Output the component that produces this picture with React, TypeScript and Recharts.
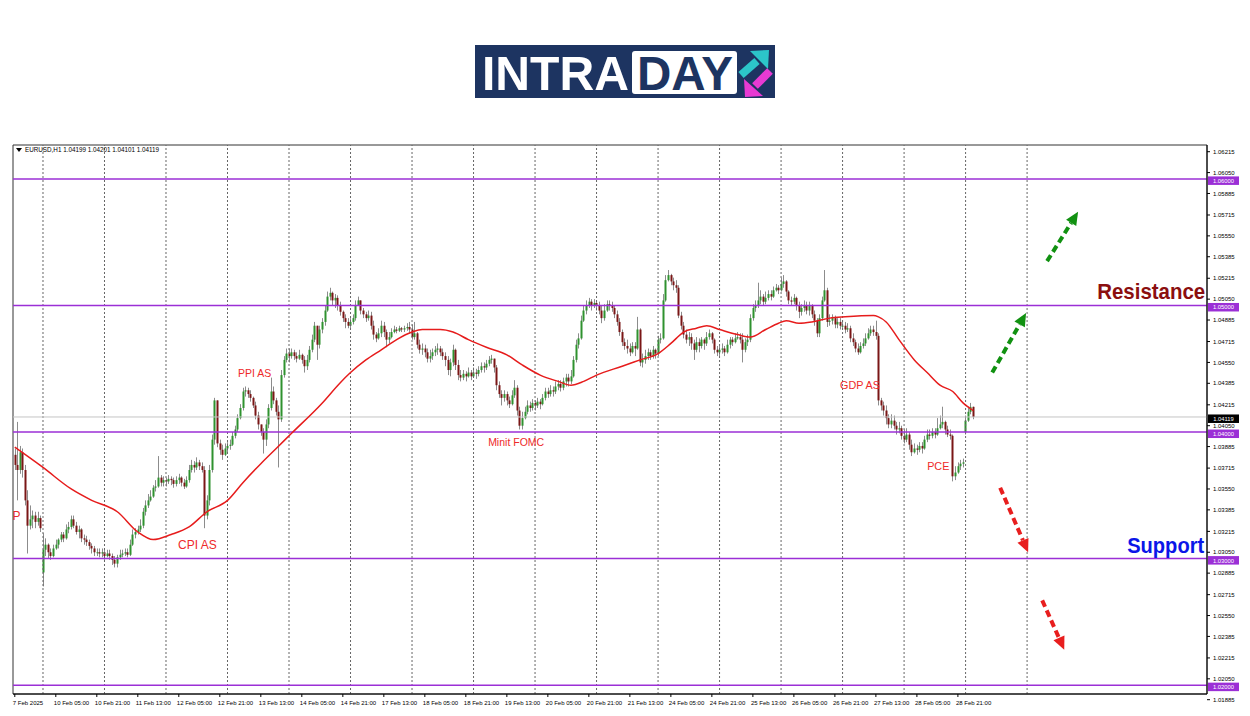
import React from 'react';
import {
  ComposedChart,
  XAxis,
  YAxis,
  Bar,
  Line,
  ReferenceLine,
  ReferenceDot,
  ReferenceArea,
} from 'recharts';

// EURUSD H1, 7 Feb 13:00 -> 3 Mar 03:00. open = previous close except where noted
const firstOpen = 1.0382;
const gapOpens: Record<number, number> = { 11: 1.0289, 371: 1.04 };

const closes = [
  // 7 Feb
  1.0374, 1.0370, 1.0384, 1.0370, 1.0346, 1.0326, 1.0331, 1.0334, 1.0329, 1.0332, 1.0324,
  // 10 Feb
  1.0307, 1.0311, 1.0305, 1.0302, 1.0308, 1.0311, 1.0315, 1.0319, 1.0316, 1.0323, 1.0325, 1.0331,
  1.0326, 1.0321, 1.0323, 1.0316, 1.0315, 1.0313, 1.0310, 1.0308, 1.0305, 1.0305, 1.0304, 1.0305,
  // 11 Feb
  1.0302, 1.0304, 1.0302, 1.0299, 1.0296, 1.0301, 1.0303, 1.0304, 1.0305, 1.0303, 1.0311, 1.0319,
  1.0321, 1.0323, 1.0326, 1.0337, 1.0342, 1.0346, 1.0349, 1.0356, 1.0357, 1.0364, 1.0360, 1.0362,
  // 12 Feb
  1.0361, 1.0363, 1.0362, 1.0359, 1.0362, 1.0364, 1.0360, 1.0357, 1.0362, 1.0370, 1.0374, 1.0372,
  1.0376, 1.0373, 1.0370, 1.0334, 1.0346, 1.0370, 1.0394, 1.0425, 1.0391, 1.0386, 1.0382, 1.0387,
  // 13 Feb
  1.0389, 1.0390, 1.0397, 1.0402, 1.0411, 1.0419, 1.0432, 1.0433, 1.0430, 1.0427, 1.0421, 1.0413,
  1.0406, 1.0400, 1.0394, 1.0406, 1.0419, 1.0432, 1.0425, 1.0416, 1.0410, 1.0445, 1.0457, 1.0462,
  // 14 Feb
  1.0460, 1.0463, 1.0460, 1.0458, 1.0461, 1.0457, 1.0452, 1.0457, 1.0465, 1.0473, 1.0484, 1.0469,
  1.0481, 1.0487, 1.0496, 1.0507, 1.0510, 1.0504, 1.0506, 1.0500, 1.0495, 1.0490, 1.0487, 1.0484,
  // 17 Feb
  1.0487, 1.0490, 1.0500, 1.0504, 1.0496, 1.0493, 1.0490, 1.0492, 1.0484, 1.0477, 1.0474, 1.0478,
  1.0484, 1.0479, 1.0473, 1.0475, 1.0479, 1.0481, 1.0480, 1.0482, 1.0481, 1.0482, 1.0483, 1.0481,
  // 18 Feb
  1.0475, 1.0478, 1.0469, 1.0465, 1.0466, 1.0463, 1.0458, 1.0460, 1.0463, 1.0465, 1.0466, 1.0463,
  1.0460, 1.0457, 1.0449, 1.0455, 1.0465, 1.0453, 1.0445, 1.0443, 1.0446, 1.0444, 1.0447, 1.0444,
  // 19 Feb
  1.0447, 1.0446, 1.0449, 1.0452, 1.0451, 1.0454, 1.0457, 1.0458, 1.0451, 1.0437, 1.0430, 1.0427,
  1.0430, 1.0425, 1.0422, 1.0429, 1.0435, 1.0417, 1.0405, 1.0411, 1.0416, 1.0421, 1.0419, 1.0423,
  // 20 Feb
  1.0421, 1.0424, 1.0422, 1.0427, 1.0432, 1.0430, 1.0433, 1.0432, 1.0436, 1.0438, 1.0435, 1.0440,
  1.0443, 1.0440, 1.0444, 1.0457, 1.0469, 1.0474, 1.0488, 1.0496, 1.0500, 1.0503, 1.0500, 1.0502,
  // 21 Feb
  1.0500, 1.0496, 1.0490, 1.0496, 1.0501, 1.0500, 1.0498, 1.0493, 1.0487, 1.0479, 1.0471, 1.0468,
  1.0466, 1.0463, 1.0468, 1.0466, 1.0481, 1.0455, 1.0457, 1.0460, 1.0463, 1.0460, 1.0465, 1.0462,
  // 24 Feb
  1.0473, 1.0474, 1.0504, 1.0520, 1.0524, 1.0519, 1.0516, 1.0514, 1.0492, 1.0484, 1.0477, 1.0473,
  1.0475, 1.0470, 1.0465, 1.0471, 1.0468, 1.0473, 1.0470, 1.0475, 1.0478, 1.0473, 1.0465, 1.0463,
  // 25 Feb
  1.0465, 1.0466, 1.0463, 1.0469, 1.0473, 1.0471, 1.0474, 1.0475, 1.0473, 1.0465, 1.0471, 1.0473,
  1.0490, 1.0498, 1.0500, 1.0504, 1.0507, 1.0503, 1.0506, 1.0509, 1.0507, 1.0512, 1.0514, 1.0512,
  // 26 Feb
  1.0517, 1.0519, 1.0511, 1.0504, 1.0503, 1.0506, 1.0500, 1.0495, 1.0498, 1.0500, 1.0496, 1.0500,
  1.0493, 1.0488, 1.0478, 1.0490, 1.0504, 1.0512, 1.0487, 1.0488, 1.0490, 1.0485, 1.0487, 1.0484,
  // 27 Feb
  1.0484, 1.0481, 1.0482, 1.0474, 1.0471, 1.0466, 1.0463, 1.0468, 1.0470, 1.0474, 1.0478, 1.0481,
  1.0479, 1.0476, 1.0425, 1.0421, 1.0417, 1.0411, 1.0406, 1.0409, 1.0405, 1.0402, 1.0403, 1.0397,
  // 28 Feb
  1.0394, 1.0398, 1.0390, 1.0384, 1.0387, 1.0386, 1.0389, 1.0387, 1.0394, 1.0398, 1.0397, 1.0400,
  1.0398, 1.0403, 1.0406, 1.0408, 1.0402, 1.0398, 1.0397, 1.0365, 1.0368, 1.0373, 1.0375, 1.0376,
  // 3 Mar
  1.0409, 1.0416, 1.04199, 1.04119,
];

const highs = [
  1.0387, 1.0408, 1.0389, 1.0387, 1.0374, 1.0354, 1.0342, 1.0338, 1.0337, 1.0337, 1.0334,
  1.0320, 1.0316, 1.0312, 1.0308, 1.0311, 1.0315, 1.0316, 1.0321, 1.0321, 1.0327, 1.0329, 1.0334,
  1.0334, 1.0329, 1.0326, 1.0324, 1.0319, 1.0318, 1.0315, 1.0312, 1.0310, 1.0308, 1.0308, 1.0308,
  1.0307, 1.0307, 1.0307, 1.0304, 1.0302, 1.0303, 1.0307, 1.0307, 1.0308, 1.0308, 1.0315, 1.0323,
  1.0324, 1.0326, 1.0331, 1.0340, 1.0346, 1.0351, 1.0354, 1.0358, 1.0362, 1.0381, 1.0366, 1.0365,
  1.0364, 1.0366, 1.0365, 1.0364, 1.0365, 1.0367, 1.0365, 1.0363, 1.0365, 1.0374, 1.0378, 1.0377,
  1.0380, 1.0378, 1.0376, 1.0373, 1.0350, 1.0374, 1.0398, 1.0427, 1.0425, 1.0394, 1.0390, 1.0391,
  1.0392, 1.0394, 1.0400, 1.0405, 1.0414, 1.0422, 1.0435, 1.0436, 1.0435, 1.0433, 1.0428, 1.0424,
  1.0416, 1.0406, 1.0403, 1.0410, 1.0422, 1.0443, 1.0436, 1.0427, 1.0421, 1.0449, 1.0460, 1.0466,
  1.0466, 1.0466, 1.0465, 1.0463, 1.0465, 1.0462, 1.0460, 1.0461, 1.0468, 1.0477, 1.0487, 1.0484,
  1.0484, 1.0490, 1.0500, 1.0511, 1.0514, 1.0511, 1.0509, 1.0508, 1.0503, 1.0496, 1.0493, 1.0490,
  1.0490, 1.0493, 1.0504, 1.0507, 1.0504, 1.0498, 1.0495, 1.0496, 1.0495, 1.0488, 1.0479, 1.0482,
  1.0488, 1.0487, 1.0481, 1.0479, 1.0482, 1.0484, 1.0483, 1.0484, 1.0483, 1.0484, 1.0486, 1.0487,
  1.0485, 1.0487, 1.0479, 1.0473, 1.0470, 1.0469, 1.0466, 1.0465, 1.0466, 1.0468, 1.0470, 1.0468,
  1.0466, 1.0463, 1.0460, 1.0458, 1.0469, 1.0466, 1.0457, 1.0449, 1.0449, 1.0448, 1.0451, 1.0449,
  1.0451, 1.0450, 1.0452, 1.0455, 1.0455, 1.0457, 1.0460, 1.0461, 1.0458, 1.0453, 1.0440, 1.0433,
  1.0433, 1.0432, 1.0428, 1.0433, 1.0441, 1.0437, 1.0420, 1.0416, 1.0420, 1.0425, 1.0424, 1.0426,
  1.0425, 1.0427, 1.0426, 1.0430, 1.0435, 1.0435, 1.0437, 1.0436, 1.0440, 1.0441, 1.0441, 1.0443,
  1.0446, 1.0446, 1.0449, 1.0460, 1.0473, 1.0478, 1.0492, 1.0500, 1.0504, 1.0506, 1.0505, 1.0505,
  1.0504, 1.0503, 1.0500, 1.0501, 1.0504, 1.0504, 1.0503, 1.0500, 1.0496, 1.0490, 1.0481, 1.0474,
  1.0473, 1.0470, 1.0471, 1.0471, 1.0491, 1.0482, 1.0462, 1.0465, 1.0466, 1.0465, 1.0468, 1.0466,
  1.0476, 1.0478, 1.0509, 1.0524, 1.0528, 1.0525, 1.0522, 1.0520, 1.0516, 1.0495, 1.0487, 1.0481,
  1.0479, 1.0478, 1.0473, 1.0475, 1.0474, 1.0475, 1.0474, 1.0479, 1.0481, 1.0479, 1.0474, 1.0468,
  1.0468, 1.0470, 1.0468, 1.0473, 1.0475, 1.0475, 1.0478, 1.0479, 1.0478, 1.0478, 1.0474, 1.0477,
  1.0493, 1.0501, 1.0504, 1.0518, 1.0512, 1.0509, 1.0511, 1.0512, 1.0512, 1.0515, 1.0517, 1.0516,
  1.0522, 1.0524, 1.0520, 1.0512, 1.0507, 1.0509, 1.0507, 1.0503, 1.0501, 1.0504, 1.0503, 1.0503,
  1.0501, 1.0496, 1.0490, 1.0493, 1.0507, 1.0528, 1.0514, 1.0493, 1.0493, 1.0492, 1.0490, 1.0490,
  1.0488, 1.0487, 1.0486, 1.0484, 1.0478, 1.0473, 1.0470, 1.0471, 1.0474, 1.0478, 1.0482, 1.0484,
  1.0484, 1.0488, 1.0478, 1.0427, 1.0424, 1.0421, 1.0414, 1.0414, 1.0413, 1.0408, 1.0408, 1.0405,
  1.0402, 1.0403, 1.0400, 1.0394, 1.0391, 1.0390, 1.0392, 1.0392, 1.0397, 1.0402, 1.0402, 1.0403,
  1.0403, 1.0411, 1.0413, 1.0420, 1.0409, 1.0405, 1.0402, 1.0398, 1.0373, 1.0376, 1.0378, 1.0379,
  1.0413, 1.0420, 1.0423, 1.04201,
];

const lows = [
  1.0370, 1.0346, 1.0367, 1.0364, 1.0342, 1.0304, 1.0323, 1.0324, 1.0324, 1.0326, 1.0321,
  1.0278, 1.0302, 1.0300, 1.0299, 1.0301, 1.0307, 1.0308, 1.0313, 1.0313, 1.0315, 1.0320, 1.0323,
  1.0324, 1.0319, 1.0316, 1.0313, 1.0311, 1.0310, 1.0307, 1.0304, 1.0302, 1.0302, 1.0301, 1.0301,
  1.0299, 1.0301, 1.0299, 1.0295, 1.0293, 1.0293, 1.0299, 1.0301, 1.0302, 1.0301, 1.0302, 1.0310,
  1.0316, 1.0319, 1.0321, 1.0324, 1.0334, 1.0340, 1.0345, 1.0348, 1.0353, 1.0356, 1.0357, 1.0357,
  1.0357, 1.0359, 1.0358, 1.0356, 1.0357, 1.0359, 1.0357, 1.0355, 1.0356, 1.0360, 1.0368, 1.0368,
  1.0370, 1.0370, 1.0368, 1.0324, 1.0331, 1.0342, 1.0368, 1.0390, 1.0388, 1.0382, 1.0378, 1.0381,
  1.0384, 1.0386, 1.0389, 1.0395, 1.0400, 1.0410, 1.0417, 1.0428, 1.0427, 1.0424, 1.0419, 1.0410,
  1.0402, 1.0397, 1.0383, 1.0389, 1.0403, 1.0417, 1.0422, 1.0413, 1.0372, 1.0408, 1.0443, 1.0455,
  1.0455, 1.0458, 1.0457, 1.0455, 1.0457, 1.0454, 1.0447, 1.0449, 1.0455, 1.0463, 1.0471, 1.0457,
  1.0466, 1.0478, 1.0484, 1.0495, 1.0504, 1.0500, 1.0498, 1.0496, 1.0492, 1.0487, 1.0482, 1.0482,
  1.0482, 1.0485, 1.0488, 1.0500, 1.0493, 1.0490, 1.0487, 1.0488, 1.0481, 1.0473, 1.0471, 1.0473,
  1.0475, 1.0475, 1.0467, 1.0470, 1.0474, 1.0478, 1.0478, 1.0479, 1.0479, 1.0479, 1.0480, 1.0478,
  1.0473, 1.0473, 1.0466, 1.0462, 1.0461, 1.0459, 1.0455, 1.0455, 1.0457, 1.0460, 1.0461, 1.0460,
  1.0457, 1.0452, 1.0445, 1.0444, 1.0452, 1.0449, 1.0441, 1.0440, 1.0441, 1.0440, 1.0443, 1.0441,
  1.0443, 1.0442, 1.0444, 1.0447, 1.0447, 1.0449, 1.0452, 1.0454, 1.0447, 1.0433, 1.0427, 1.0421,
  1.0424, 1.0421, 1.0419, 1.0421, 1.0427, 1.0413, 1.0402, 1.0402, 1.0410, 1.0414, 1.0416, 1.0417,
  1.0417, 1.0419, 1.0418, 1.0421, 1.0425, 1.0427, 1.0428, 1.0428, 1.0430, 1.0433, 1.0432, 1.0433,
  1.0436, 1.0436, 1.0438, 1.0443, 1.0455, 1.0466, 1.0473, 1.0487, 1.0493, 1.0498, 1.0496, 1.0498,
  1.0496, 1.0493, 1.0486, 1.0488, 1.0495, 1.0496, 1.0495, 1.0490, 1.0484, 1.0476, 1.0468, 1.0465,
  1.0462, 1.0460, 1.0462, 1.0460, 1.0465, 1.0452, 1.0451, 1.0454, 1.0457, 1.0457, 1.0458, 1.0458,
  1.0460, 1.0470, 1.0473, 1.0503, 1.0519, 1.0516, 1.0512, 1.0510, 1.0490, 1.0481, 1.0474, 1.0470,
  1.0468, 1.0465, 1.0457, 1.0463, 1.0463, 1.0466, 1.0465, 1.0468, 1.0473, 1.0470, 1.0462, 1.0460,
  1.0460, 1.0462, 1.0460, 1.0462, 1.0466, 1.0468, 1.0470, 1.0473, 1.0470, 1.0455, 1.0463, 1.0468,
  1.0471, 1.0488, 1.0495, 1.0498, 1.0501, 1.0500, 1.0501, 1.0504, 1.0504, 1.0506, 1.0511, 1.0509,
  1.0511, 1.0514, 1.0507, 1.0501, 1.0500, 1.0501, 1.0496, 1.0490, 1.0492, 1.0495, 1.0493, 1.0492,
  1.0490, 1.0484, 1.0475, 1.0475, 1.0488, 1.0503, 1.0483, 1.0484, 1.0485, 1.0482, 1.0482, 1.0481,
  1.0481, 1.0478, 1.0479, 1.0471, 1.0468, 1.0463, 1.0461, 1.0462, 1.0466, 1.0468, 1.0473, 1.0476,
  1.0476, 1.0473, 1.0421, 1.0417, 1.0413, 1.0406, 1.0403, 1.0403, 1.0402, 1.0398, 1.0399, 1.0394,
  1.0391, 1.0392, 1.0386, 1.0381, 1.0383, 1.0382, 1.0384, 1.0383, 1.0386, 1.0392, 1.0394, 1.0395,
  1.0395, 1.0397, 1.0402, 1.0403, 1.0398, 1.0396, 1.0394, 1.0361, 1.0362, 1.0367, 1.0370, 1.0372,
  1.0398, 1.0408, 1.0414, 1.04101,
];

// red moving average, read at sampled bars
const maIdx = [
  0, 11, 22, 30, 40, 48, 54, 61, 68, 75, 83, 89, 96, 102, 108, 120, 127, 131, 137, 143, 149, 155,
  159, 166, 171, 177, 184, 192, 198, 205, 212, 217, 222, 227, 237, 244, 251, 256, 261, 266, 270,
  275, 282, 287, 293, 298, 301, 306, 311, 318, 324, 335, 337, 340, 345, 351, 356, 361, 366, 370, 374,
];
const maVals = [
  1.0388, 1.0372, 1.0355, 1.0346, 1.0337, 1.0321, 1.0315, 1.0319, 1.0325, 1.0337, 1.0346, 1.036,
  1.0375, 1.0387, 1.0399, 1.0423, 1.0439, 1.0447, 1.0457, 1.0465, 1.0473, 1.0479, 1.0481, 1.0481,
  1.0479, 1.0473, 1.0467, 1.0461, 1.0453, 1.0445, 1.044, 1.0437, 1.044, 1.0445, 1.0452, 1.0457,
  1.0462, 1.047, 1.0479, 1.0482, 1.0484, 1.0481, 1.0477, 1.0475, 1.0481, 1.0486, 1.0488, 1.0486,
  1.0487, 1.049, 1.0491, 1.0492, 1.0491, 1.0487, 1.0473, 1.0457, 1.0447, 1.0437, 1.0432, 1.0423,
  1.0417,
];

// one label every 16 bars
const xTickLabels = [
  '7 Feb 2025', '10 Feb 05:00', '10 Feb 21:00', '11 Feb 13:00', '12 Feb 05:00', '12 Feb 21:00',
  '13 Feb 13:00', '14 Feb 05:00', '14 Feb 21:00', '17 Feb 13:00', '18 Feb 05:00', '18 Feb 21:00',
  '19 Feb 13:00', '20 Feb 05:00', '20 Feb 21:00', '21 Feb 13:00', '24 Feb 05:00', '24 Feb 21:00',
  '25 Feb 13:00', '26 Feb 05:00', '26 Feb 21:00', '27 Feb 13:00', '28 Feb 05:00', '28 Feb 21:00',
];
// bar index of each midnight (10 Feb .. 4 Mar)
const dayStarts = [11, 35, 59, 83, 107, 131, 155, 179, 203, 227, 251, 275, 299, 323, 347, 371, 395];

const yTicks = [
  1.06215, 1.0605, 1.05885, 1.05715, 1.0555, 1.05385, 1.05215, 1.0505, 1.04885, 1.04715, 1.0455,
  1.04385, 1.04215, 1.0405, 1.03885, 1.03715, 1.0355, 1.03385, 1.03215, 1.0305, 1.02885, 1.02715,
  1.0255, 1.02385, 1.02215, 1.0205, 1.01885,
];
const levels = [1.06, 1.05, 1.04, 1.03, 1.02];

const notes = [
  { text: 'P', i: 2.2, price: 1.0334, size: 12, color: '#ee2a2a', anchor: 'end' },
  { text: 'CPI AS', i: 63.7, price: 1.0311, size: 12, color: '#ee2a2a', anchor: 'start' },
  { text: 'PPI AS', i: 87.1, price: 1.0446, size: 10.5, color: '#ee2a2a', anchor: 'start' },
  { text: 'Minit FOMC', i: 184.7, price: 1.0392, size: 10.5, color: '#ee2a2a', anchor: 'start' },
  { text: 'GDP AS', i: 322, price: 1.0437, size: 10.8, color: '#ee2a2a', anchor: 'start' },
  { text: 'PCE', i: 356, price: 1.0373, size: 10.8, color: '#ee2a2a', anchor: 'start' },
];
const tags = [
  { text: 'Resistance', i: 464.5, price: 1.0511, color: '#8b0f0f', len: 108 },
  { text: 'Support', i: 464.1, price: 1.031, color: '#0b16e8', len: 77 },
];
const arrows = [
  { x1: 402.8, y1: 1.0535, x2: 414.9, y2: 1.0574, color: '#119111' },
  { x1: 381.4, y1: 1.0447, x2: 394.6, y2: 1.0494, color: '#119111' },
  { x1: 384.5, y1: 1.0356, x2: 395.4, y2: 1.0305, color: '#e81e1e' },
  { x1: 400.9, y1: 1.0267, x2: 409.5, y2: 1.0228, color: '#e81e1e' },
];

const last = closes.length - 1;
const rows = closes.map((c, i) => {
  const o = i === 0 ? firstOpen : gapOpens[i] ?? closes[i - 1];
  const h = Math.max(highs[i], o, c);
  const l = Math.min(lows[i], o, c);
  const k = maIdx.indexOf(i);
  return { i, o, c, h, l, range: [l, h], ma: k >= 0 ? maVals[k] : null };
});
const lastBar = rows[last];

const FONT = '"Liberation Sans", Arial, sans-serif';
const PURPLE = '#9b2fd6';

function Candle(props: any) {
  const { x, y, width, height, payload } = props;
  if (x == null || y == null) return null;
  const top = Math.min(y, y + height);
  const hh = Math.abs(height);
  const cx = Math.round(x + width / 2);
  const span = payload.h - payload.l;
  const k = span > 0 ? hh / span : 0;
  const yO = top + (payload.h - payload.o) * k;
  const yC = top + (payload.h - payload.c) * k;
  const up = payload.c >= payload.o;
  return (
    <g>
      <line x1={cx + 0.5} x2={cx + 0.5} y1={top} y2={top + hh} stroke="#8c8c8c" strokeWidth={1} />
      <rect
        x={cx - 0.5}
        y={Math.min(yO, yC)}
        width={2}
        height={Math.max(Math.abs(yC - yO), 1)}
        fill={up ? '#2f922f' : '#7a1616'}
      />
    </g>
  );
}

function XTick(props: any) {
  const { x, y, payload } = props;
  const label = xTickLabels[Math.round(payload.value / 16)];
  return (
    <text x={x - 2} y={y + 6} fontSize={6} fontFamily={FONT} fill="#000" textAnchor="start">
      {label}
    </text>
  );
}

function LevelTag(fill: string, text: string) {
  return (props: any) => {
    const { viewBox } = props;
    const right = viewBox.x + viewBox.width;
    return (
      <g>
        <rect x={right + 1} y={viewBox.y - 2.5} width={31} height={8.5} fill={fill} />
        <text
          x={right + 16.5}
          y={viewBox.y + 4}
          fontSize={5.8}
          fontFamily={FONT}
          fill="#fff"
          textAnchor="middle"
        >
          {text}
        </text>
      </g>
    );
  };
}

function Arrow(color: string) {
  return (props: any) => {
    const { x1, y1, x2, y2 } = props;
    const dx = x2 - x1;
    const dy = y2 - y1;
    const len = Math.hypot(dx, dy);
    const ux = dx / len;
    const uy = dy / len;
    const head = 13;
    const bx = x2 - ux * head;
    const by = y2 - uy * head;
    const px = -uy * 6;
    const py = ux * 6;
    return (
      <g>
        <line
          x1={x1}
          y1={y1}
          x2={bx}
          y2={by}
          stroke={color}
          strokeWidth={4}
          strokeDasharray="7 4"
        />
        <polygon points={`${x2},${y2} ${bx + px},${by + py} ${bx - px},${by - py}`} fill={color} />
      </g>
    );
  };
}

function Logo() {
  return (
    <g>
      <rect x={475} y={45} width={300} height={53} fill="#1d3461" />
      <text
        x={482}
        y={90}
        fontSize={48}
        fontWeight={700}
        fontFamily={FONT}
        fill="#fff"
        textLength={147}
        lengthAdjust="spacingAndGlyphs"
      >
        INTRA
      </text>
      <rect x={632} y={51} width={105} height={43} rx={3} fill="#fff" />
      <text
        x={637}
        y={90}
        fontSize={48}
        fontWeight={700}
        fontFamily={FONT}
        fill="#1d3461"
        textLength={96}
        lengthAdjust="spacingAndGlyphs"
      >
        DAY
      </text>
      <line x1={741} y1={75} x2={757} y2={61} stroke="#2cc5c9" strokeWidth={8} />
      <polygon points="750,51 769,50 768,69" fill="#2cc5c9" />
      <line x1={770} y1={71} x2={755} y2={86} stroke="#e83ad3" strokeWidth={8} />
      <polygon points="744,79 745,97 763,96" fill="#e83ad3" />
    </g>
  );
}

export default function App() {
  return (
    <div
      style={{
        position: 'absolute',
        left: 0,
        top: 0,
        width: 1250,
        height: 716,
        background: '#fff',
        overflow: 'hidden',
        fontFamily: FONT,
      }}
    >
      <ComposedChart
        width={1250}
        height={716}
        data={rows}
        margin={{ top: 145, right: 0, bottom: 0, left: 13 }}
      >
        <XAxis
          dataKey="i"
          type="number"
          domain={[-0.7, 465.2]}
          allowDataOverflow
          ticks={xTickLabels.map((_, k) => k * 16)}
          interval={0}
          height={22}
          tick={<XTick />}
          tickSize={3}
          axisLine={{ stroke: '#000' }}
          tickLine={{ stroke: '#000' }}
        />
        <YAxis
          orientation="right"
          type="number"
          domain={[1.0193, 1.06268]}
          allowDataOverflow
          ticks={yTicks}
          interval={0}
          width={43}
          tickSize={3}
          tickMargin={3}
          tickFormatter={(v: number) => v.toFixed(5)}
          tick={{ fontSize: 6, fill: '#000', fontFamily: FONT }}
          axisLine={{ stroke: '#000' }}
          tickLine={{ stroke: '#000' }}
        />
        <ReferenceArea
          x1={-0.7}
          x2={465.2}
          y1={1.0193}
          y2={1.06268}
          fill="none"
          stroke="#333"
          strokeWidth={1}
        />
        {dayStarts.map((d) => (
          <ReferenceLine key={d} x={d} stroke="#666" strokeDasharray="2 2" strokeWidth={1} />
        ))}
        <ReferenceLine
          y={lastBar.c}
          stroke="#c4c4c4"
          strokeWidth={1}
          label={LevelTag('#000', lastBar.c.toFixed(5))}
        />
        {levels.map((lv) => (
          <ReferenceLine
            key={lv}
            y={lv}
            stroke={PURPLE}
            strokeWidth={1.5}
            label={LevelTag(PURPLE, lv.toFixed(5))}
          />
        ))}
        <Bar dataKey="range" shape={Candle} barSize={2} isAnimationActive={false} />
        <Line
          dataKey="ma"
          type="monotone"
          stroke="#e61c1c"
          strokeWidth={1.5}
          dot={false}
          activeDot={false}
          connectNulls
          isAnimationActive={false}
        />
        {notes.map((n) => (
          <ReferenceDot
            key={n.text}
            x={n.i}
            y={n.price}
            r={0}
            ifOverflow="visible"
            shape={(p: any) => (
              <text
                x={p.cx}
                y={p.cy}
                dy="0.35em"
                fontSize={n.size}
                fill={n.color}
                fontFamily={FONT}
                textAnchor={n.anchor}
              >
                {n.text}
              </text>
            )}
          />
        ))}
        {tags.map((t) => (
          <ReferenceDot
            key={t.text}
            x={t.i}
            y={t.price}
            r={0}
            ifOverflow="visible"
            shape={(p: any) => (
              <text
                x={p.cx}
                y={p.cy}
                dy="0.33em"
                fontSize={22}
                fontWeight={700}
                fill={t.color}
                fontFamily={FONT}
                textAnchor="end"
                textLength={t.len}
                lengthAdjust="spacingAndGlyphs"
              >
                {t.text}
              </text>
            )}
          />
        ))}
        {arrows.map((a, k) => (
          <ReferenceLine
            key={k}
            segment={[
              { x: a.x1, y: a.y1 },
              { x: a.x2, y: a.y2 },
            ]}
            ifOverflow="visible"
            shape={Arrow(a.color)}
          />
        ))}
      </ComposedChart>
      <svg
        width={1250}
        height={716}
        style={{ position: 'absolute', left: 0, top: 0, pointerEvents: 'none' }}
      >
        <Logo />
        <polygon points="16,148 22,148 19,152" fill="#000" />
        <text x={25} y={152} fontSize={6.3} fontFamily={FONT} fill="#000">
          {`EURUSD,H1  ${lastBar.o.toFixed(5)} ${lastBar.h.toFixed(5)} ${lastBar.l.toFixed(5)} ${lastBar.c.toFixed(5)}`}
        </text>
      </svg>
    </div>
  );
}
